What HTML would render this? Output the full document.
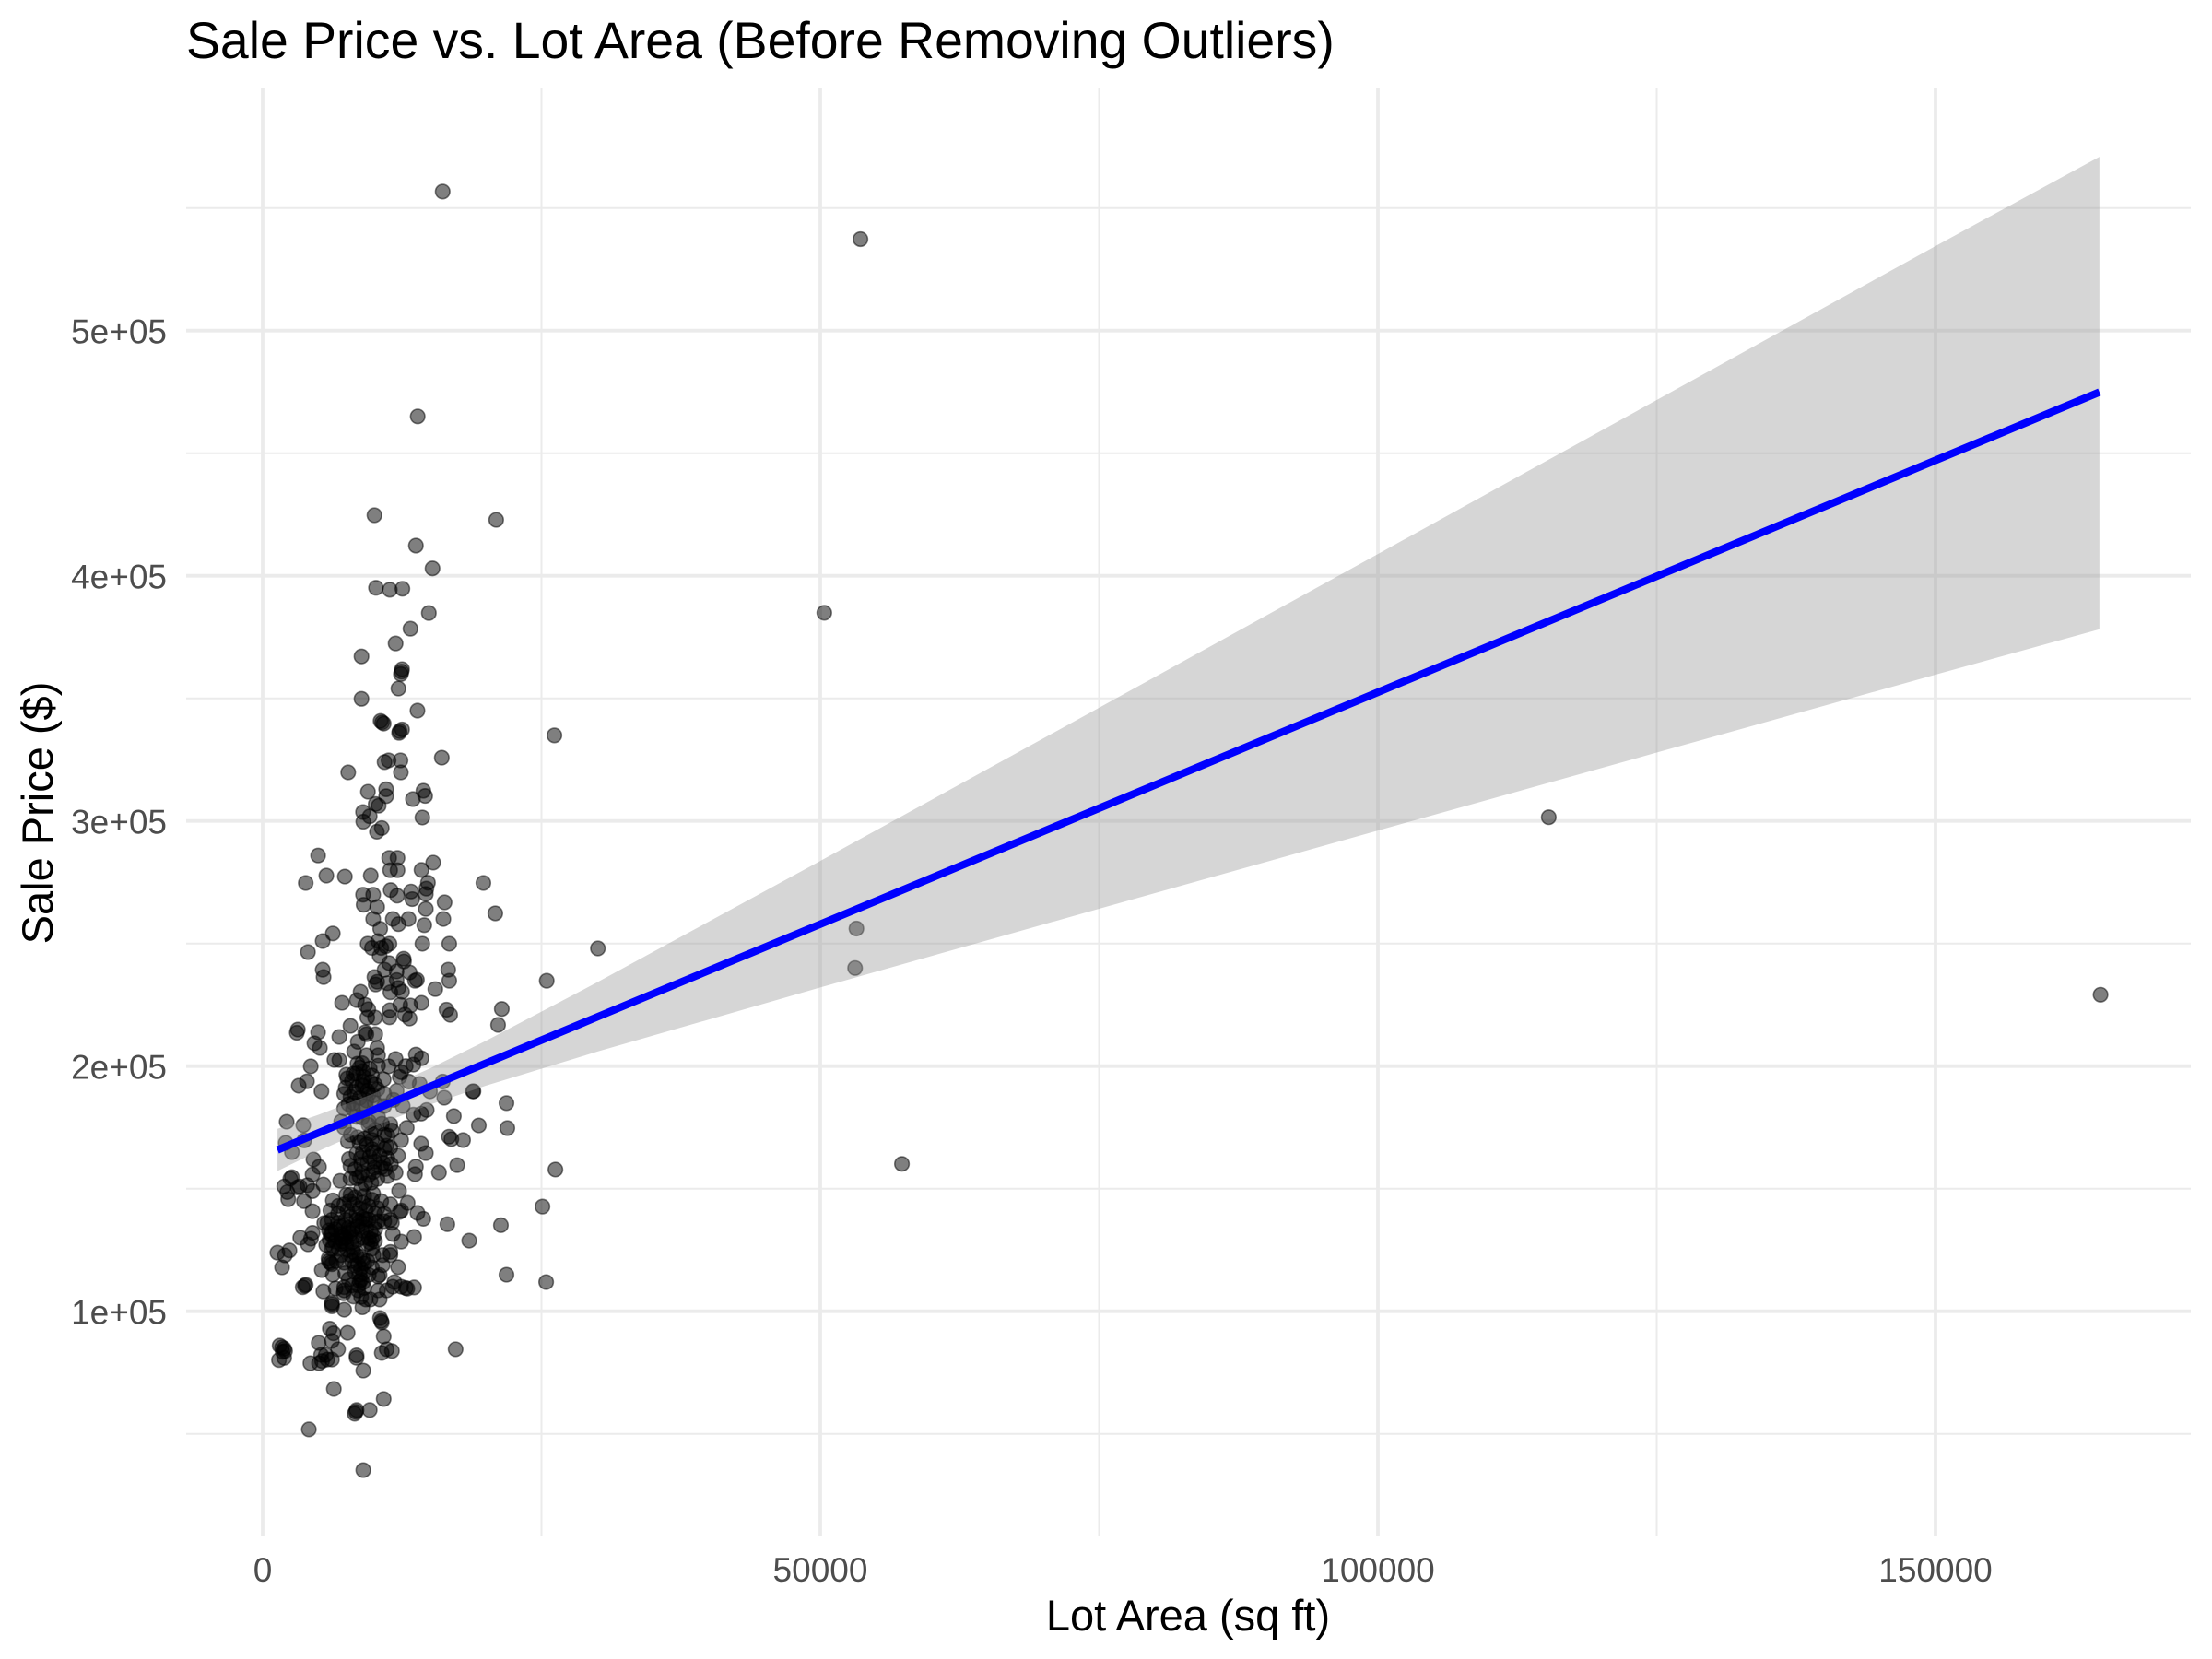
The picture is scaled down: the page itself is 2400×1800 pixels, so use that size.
<!DOCTYPE html>
<html lang="en">
<head>
<meta charset="utf-8">
<title>Sale Price vs. Lot Area (Before Removing Outliers)</title>
<style>
html,body{margin:0;padding:0;background:#fff;}
svg{display:block;font-family:"Liberation Sans",Arial,sans-serif;}
</style>
</head>
<body>
<svg id="chart" xmlns="http://www.w3.org/2000/svg" width="2400" height="1800" viewBox="0 0 2400 1800">
  <rect x="0" y="0" width="2400" height="1800" fill="#ffffff"/>
  <g id="grid"></g>
  <g id="points"></g>
  <path id="ribbon" fill="#999999" fill-opacity="0.4" stroke="none"/>
  <path id="trend" fill="none" stroke="#0000ff" stroke-width="8.2"/>
  <g id="xticks"></g>
  <g id="yticks"></g>
  <text x="202" y="63" font-size="55.35" fill="#000000">Sale Price vs. Lot Area (Before Removing Outliers)</text>
  <text x="1289" y="1769" font-size="47" fill="#000000" text-anchor="middle">Lot Area (sq ft)</text>
  <text transform="translate(57,882) rotate(-90)" font-size="47" fill="#000000" text-anchor="middle">Sale Price ($)</text>
</svg>
<script>
const xMajorTicks = [0, 50000, 100000, 150000];
const xMinorTicks = [25000, 75000, 125000];
const xTickLabels = ["0", "50000", "100000", "150000"];
const yMajorTicks = [100000, 200000, 300000, 400000, 500000];
const yMinorTicks = [50000, 150000, 250000, 350000, 450000, 550000];
const yTickLabels = ["1e+05", "2e+05", "3e+05", "4e+05", "5e+05"];

const fitLotArea = [1330, 5000, 10000, 15000, 20000, 30000, 50000, 75000, 100000, 125000, 150000, 164700];
const fitPrice = [165800, 172744, 182204, 191664, 201124, 220044, 257884, 305184, 352484, 399784, 447084, 474900];
const fitUpper = [174400, 180130, 188900, 199050, 210260, 234190, 283680, 346180, 408880, 471680, 534480, 570900];
const fitLower = [157200, 165350, 175500, 184270, 191980, 205890, 232080, 264180, 296080, 327880, 359680, 378200];

const farPoints = [[53600,537300],[50360,384900],[26160,334900],[115320,301500],[164800,229100],[53240,256100],[53120,240000],[57320,160100]];

const upperPoints = [[16140,556700],[13900,465000],[10020,424700],[20940,422800],[13740,412300],[15230,403000],[10160,395100],[11400,394300],[12530,394700],
[14900,384800],[13250,378400],[11920,372400],[8860,367100],[12500,361900],[12450,360900],[12390,359900],[12170,354000],[8860,349800],[13880,345000],[10570,340800],[10710,340200],[10850,339700],[12500,337300],[12280,336600],[12230,335900],[16060,325800],[11290,324700],[10930,324000],[12360,324700],[7670,319800],[12390,319800],[9440,311900],[11070,312900],[11070,310100],[14410,312300],[14570,310200],[13470,308900],[10130,306900],[10400,306200],[9000,303600],[9600,301900],[9020,299700],[14320,301400],[10680,297100],[10240,295600],
[4970,285900],[11340,284900],[12090,284900],[15290,283000],[11430,279900],[12090,279900],[14240,280000],[5710,277700],[7370,277300],[9690,277700],[3860,274700],[19790,274700],[14820,274800],[14680,272400],[14630,270200],[11480,271800],[12060,269500],[13300,271200],[13410,268100],[9000,269900],[9910,269900],[9050,265800],[10270,264900],[16310,266800],[14630,264100],[20860,262300],[9910,260000],[11670,260000],[13080,260000],[16200,260000],[12170,257900],[14490,257500],[10540,256000],[6290,254100],[5380,251000],[4060,246500],[9410,249900],[10350,251000],[11370,249900],[14320,249900],[16730,249900],[30060,248000],[9800,248200],[10630,248200],[11040,248900],[10490,244900],[12640,243800]];

const middlePoints = [[11340,242000],[12670,242700],[16640,239300],[5380,239300],[5460,236300],[16730,234800],[10930,239300],[12010,238600],[13170,238200],[10020,236300],[10270,234400],[13830,235200],[13660,234800],[10130,233300],[11180,233800],[12010,235100],[15480,231400],[25470,234800],[12170,231900],[11450,230100],[12500,230300],[8780,230300],[8450,226900],[7120,225800],[9190,225000],[9470,223200],[12340,225000],[14240,225800],[13250,224700],[21440,223300],[16480,223000],[16810,220900],[10070,219800],[9380,219800],[11400,222800],[11370,219900],[12750,221000],[13170,219400],[21110,216800],[7870,216400],[3150,214900],[3060,213600],[4970,213800],[9190,213800],[9300,213000],[10100,213000],[6870,211900],[8530,209900],[4640,209300],[5130,207400],[10270,207400],[8200,205900],[10350,204400],[9300,204400],[13740,204700],[14240,203200],[11920,202900],[6430,202500],[6870,202500],[13520,200600],[12830,200000],[8910,201200],[8690,199400],[10350,200200],[11290,199900],[4310,199900],[12420,197500],[8140,196900],[9800,196200],[7590,195000],[8970,193700],[9110,191800],[10850,194600],[12280,195600],[13110,193700],[16150,193700],[3970,193800],[3230,192000],[14080,192700],[5270,189700],[7450,191200],[8420,191200],[10070,192500],[7310,188700],[7870,187500],[9520,188700],[10900,188700],[12010,189900],[15000,189700],[18850,189700],[18900,189700],[16280,187100],[7310,182700],[8140,185000],[9250,183700],[10070,185000],[10900,183700],[11730,186200],[12560,183700],[21860,184900],[14710,182100],[14210,180600],[13520,180200],[17140,179600],[2150,177300],[3640,175900],[19380,175800],[21940,174700],[12920,174800],[11450,176200],[11590,173700],[7310,174900],[9520,177400],[8420,179300],[10350,179300],[7040,177400],[7640,169300],[12420,169800],[16700,171200],[16920,170200],[17970,169800],[2070,168700],[3730,169700],[14210,168300],[14630,164500],[2620,164900],[8690,168700],[9800,169900],[11180,171800],[9800,166200],[10900,166200],[8970,164900],[11450,166800],[8420,164300],[12140,163400],[7730,162100],[4550,161900],[5050,158900],[17440,159600],[7870,159300],[8830,159900],[10070,161100],[11180,162400],[10630,158600],[13740,159000],[13660,155900],[15810,156600],[26250,157800],[11920,156600],[11180,155100],[9940,156800],[4470,155800],[2620,154700],[2480,154100],[6950,153200],[7870,154200],[8420,154200],[8690,154900],[9740,152400],[5440,151700],[4000,151400],[3310,150900],[3120,150500],[1930,150900],[4470,149000],[2210,148600],[12230,149100],[7870,147600],[8830,149900],[2290,145700],[3700,144900],[4470,140800],[6290,145200],[25090,142700],[13000,144200],[12420,141100],[12280,140500],[13880,140100],[14410,137700]];

const lowerPoints = [[16560,135500],[21360,135100],[7310,143600],[8140,143600],[8970,144200],[9800,145500],[10630,144900],[11450,143600],[6070,141100],[6760,139800],[7590,141100],[8420,139800],[9250,141100],[10070,139800],[10900,139800],[5520,136000],[6210,137300],[7450,137300],[8690,136700],[9520,137300],[10350,136700],[11450,137300],[8970,138200],[9250,137600],
[18520,128800],[13580,130300],[12420,128400],[11670,131500],[4470,132000],[3370,130000],[4330,129600],[4060,127300],[1320,123900],[2400,124800],[1990,122800],[1740,117900],[21860,114900],[25420,111900],[6210,132300],[5930,133000],[6070,131700],[6210,131100],[7310,131100],[7450,129800],[7170,128600],[7730,132300],[7870,131700],[7040,129800],[9800,129200],[9660,127900],[9940,130500],[9520,129800],[10070,128600],[8970,136100],[10070,136100],[8420,137300],[7870,138600],[10900,136700],[11590,136100],[6760,136100],[5800,136100],[6210,125400],[7040,122900],[8140,124200],[8420,122900],[7870,122900],[8690,122300],[9940,122900],[11450,124200],[11450,122900],[10760,122900],[6070,119800],[5930,120400],[6210,119200],[7310,119800],[8280,118600],[8560,119200],[8970,121100],[12140,118000],[10760,118800],[5300,116800],[6290,114900],[8280,116000],[9800,117900],[10490,114800],[10350,114200],[8830,112900],[8970,111700],[8690,112300],[9520,114800],[11810,111900],[11670,110000],[12830,109500],[12970,109200],[13580,109700],[12420,110000],[11120,108500],[10350,108500],[10490,104800],[3590,109800],[3780,110400],[3860,110800],[5440,108100],[6540,109300],[7310,109800],[7310,108500],[7260,107300],[8140,106000],[8830,105800],[9250,104800],[9660,104800],[8560,108500],[6210,102900],[6210,102000],[6210,103500],[7310,100600],[8940,101600],[10520,97200],[10680,95400],[10630,96000],[10850,89700],[6020,92900],[6350,91000],[6210,87900],[7620,91200],[5020,87100],[6760,84500],[1520,86000],[1740,85300],[1930,84700],[2010,83800],[1790,83500],[1460,80100],[1930,81000],[4280,78800],[5050,78800],[5240,82200],[5660,82200],[5800,80300],[6210,80300],[5330,79700],[8420,82000],[8420,81000],[9020,75800],[10680,83000],[11120,84500],[11590,83800],[17300,84500],[6380,68300],[10850,64200],[8420,59700],[8360,59000],[8250,58200],[9600,59700],[4140,51800],[9020,35200]];

const upperCorePoints = [[7500,196500],[8000,194000],[8400,197000],[8900,192000],[9100,195500],[9400,190000],[9700,193500],[9900,188000],[8200,189500],[8700,187000],[9300,186000],[7700,184500],[8100,182500],[8800,184000],[10300,190500],[9000,198000],[9600,199000],[8500,201000]];
const bandCorePoints = [[8900,179000],[9500,176000],[10100,174000],[10700,176500],[7900,172000],[8500,171000],[9100,170500],[9700,172500],[9300,168000],[10300,168500],[10900,172000],[9900,165000],[10500,163500],[11100,167500],[8800,162500],[9400,160500],[10000,158500],[9600,163000],[11000,158000],[8300,158000],[8900,156500],[9500,155500],[10300,154000],[10800,160500],[11500,160000],[9200,152000]];
const lowerCorePoints = [[7500,147500],[8300,146500],[9100,147000],[9900,148000],[6800,143000],[7800,145000],[8700,142000],[9500,143000],[10300,142000],[6500,133500],[6900,134500],[7300,135000],[7700,134000],[8100,133500],[8500,134500],[8900,133000],[9300,134000],[9700,132500],[10100,133500],[6000,129000],[6500,128500],[7000,127500],[7500,127500],[8000,128000],[8500,129000],[9000,130000],[9400,127500],[5700,127000],[6300,126500],[6800,125500],[7600,125000],[8100,126000],[9800,125500],[7000,131500],[8300,130500],[5900,121500],[6600,120500],[8000,120500],[8800,117500],[9100,119500],[9400,120500],[9100,109500],[8600,110500],[9000,115500],[8700,115000],[7700,113000],[8000,110500],[7400,115500]];

const SVG_NS = "http://www.w3.org/2000/svg";
const PANEL = { left: 202, right: 2377, top: 96, bottom: 1667 };
function xScale(v) { return 285 + v * 0.0121; }
function yScale(v) { return 1422.7 - (v - 100000) * 0.00266; }

function gridLine(parent, x1, y1, x2, y2, width, name) {
  const el = document.createElementNS(SVG_NS, "line");
  el.setAttribute("x1", x1);
  el.setAttribute("y1", y1);
  el.setAttribute("x2", x2);
  el.setAttribute("y2", y2);
  el.setAttribute("stroke", "#ebebeb");
  el.setAttribute("stroke-width", width);
  
  
  parent.appendChild(el);
}

const gridGroup = document.getElementById("grid");
yMinorTicks.forEach(function (v) { gridLine(gridGroup, PANEL.left, yScale(v), PANEL.right, yScale(v), 2, "y-minor-gridline"); });
xMinorTicks.forEach(function (v) { gridLine(gridGroup, xScale(v), PANEL.top, xScale(v), PANEL.bottom, 2, "x-minor-gridline"); });
yMajorTicks.forEach(function (v) { gridLine(gridGroup, PANEL.left, yScale(v), PANEL.right, yScale(v), 3.8, "y-major-gridline"); });
xMajorTicks.forEach(function (v) { gridLine(gridGroup, xScale(v), PANEL.top, xScale(v), PANEL.bottom, 3.8, "x-major-gridline"); });

const pointsGroup = document.getElementById("points");
[upperPoints, middlePoints, lowerPoints, upperCorePoints, bandCorePoints, lowerCorePoints, farPoints].forEach(function (series) {
  series.forEach(function (p) {
    const c = document.createElementNS(SVG_NS, "circle");
    c.setAttribute("cx", xScale(p[0]));
    c.setAttribute("cy", yScale(p[1]));
    c.setAttribute("r", 7.8);
    c.setAttribute("fill", "rgba(0,0,0,0.5)");
    c.setAttribute("stroke", "rgba(0,0,0,0.5)");
    c.setAttribute("stroke-width", 1.6);
    
    
    pointsGroup.appendChild(c);
  });
});

let ribbonPath = "";
fitLotArea.forEach(function (v, i) {
  ribbonPath += (i === 0 ? "M" : "L") + xScale(v) + " " + yScale(fitUpper[i]);
});
for (let i = fitLotArea.length - 1; i >= 0; i--) {
  ribbonPath += "L" + xScale(fitLotArea[i]) + " " + yScale(fitLower[i]);
}
document.getElementById("ribbon").setAttribute("d", ribbonPath + "Z");

let trendPath = "";
fitLotArea.forEach(function (v, i) {
  trendPath += (i === 0 ? "M" : "L") + xScale(v) + " " + yScale(fitPrice[i]);
});
document.getElementById("trend").setAttribute("d", trendPath);

const xTickGroup = document.getElementById("xticks");
xMajorTicks.forEach(function (v, i) {
  const t = document.createElementNS(SVG_NS, "text");
  t.setAttribute("x", xScale(v));
  t.setAttribute("y", 1716);
  t.setAttribute("font-size", 37);
  t.setAttribute("fill", "#4d4d4d");
  t.setAttribute("text-anchor", "middle");
  
  
  t.textContent = xTickLabels[i];
  xTickGroup.appendChild(t);
});

const yTickGroup = document.getElementById("yticks");
yMajorTicks.forEach(function (v, i) {
  const t = document.createElementNS(SVG_NS, "text");
  t.setAttribute("x", 181);
  t.setAttribute("y", yScale(v) + 14);
  t.setAttribute("font-size", 37);
  t.setAttribute("fill", "#4d4d4d");
  t.setAttribute("text-anchor", "end");
  
  
  t.textContent = yTickLabels[i];
  yTickGroup.appendChild(t);
});
</script>
</body>
</html>
